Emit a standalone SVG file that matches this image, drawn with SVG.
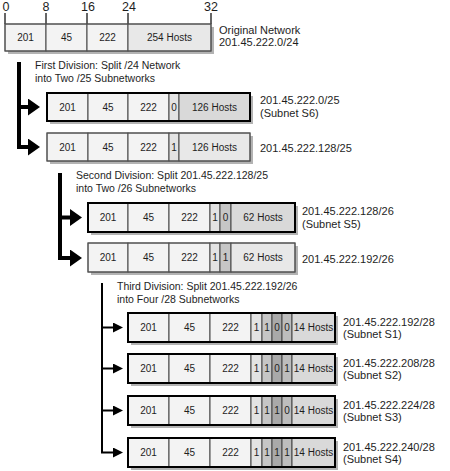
<svg xmlns="http://www.w3.org/2000/svg" width="450" height="471" viewBox="0 0 450 471">
<style>
text{font-family:"Liberation Sans",Arial,sans-serif;fill:#1e1e1e}
.num{font-size:12.5px;text-anchor:middle}
.cell{font-size:10px;text-anchor:middle}
.hs{font-size:10px;text-anchor:middle}
.lbl{font-size:11px}
.div{font-size:10.5px}
.o{fill:#f3f3f3;stroke:#444;stroke-width:1}
.h0{fill:#e8e8e8;stroke:#444;stroke-width:1}
.h{fill:#d9d9d9;stroke:#444;stroke-width:1}
.b1{fill:#e3e3e3;stroke:#444;stroke-width:1}
.b2{fill:#c6c6c6;stroke:#444;stroke-width:1}
.b3{fill:#a9a9a9;stroke:#444;stroke-width:1}
.b4{fill:#bdbdbd;stroke:#444;stroke-width:1}
.sh{fill:#b3b3b3}
.thin{fill:none;stroke:#555;stroke-width:1}
.bold{fill:none;stroke:#000;stroke-width:2}
.tick{stroke:#333;stroke-width:1.5}
.conn{fill:none;stroke:#000;stroke-linejoin:miter}
.thick{stroke-width:4}
.fine{stroke-width:2}
</style>
<defs>
<marker id="ah" viewBox="0 0 12 17" refX="0" refY="8.5" markerWidth="12" markerHeight="17" markerUnits="userSpaceOnUse" orient="auto">
<path d="M0,0 L12,8.5 L0,17 Z" fill="#000"/>
</marker>
<marker id="ahs" viewBox="0 0 10 10" refX="0" refY="5" markerWidth="10" markerHeight="10" markerUnits="userSpaceOnUse" orient="auto">
<path d="M0,0 L10,5 L0,10 Z" fill="#000"/>
</marker>
</defs>

<g id="bit-scale">
<line class="tick" x1="5" y1="13" x2="5" y2="24"/>
<line class="tick" x1="46" y1="13" x2="46" y2="24"/>
<line class="tick" x1="87" y1="13" x2="87" y2="24"/>
<line class="tick" x1="128" y1="13" x2="128" y2="24"/>
<line class="tick" x1="211" y1="13" x2="211" y2="24"/>
<text class="num" x="6" y="11">0</text>
<text class="num" x="46" y="11">8</text>
<text class="num" x="88" y="11">16</text>
<text class="num" x="129" y="11">24</text>
<text class="num" x="211" y="11">32</text>
</g>

<g id="original-network">
<rect class="sh" x="8" y="27" width="206" height="27"/>
<rect class="o" x="5" y="24" width="41" height="27"/>
<rect class="o" x="46" y="24" width="41" height="27"/>
<rect class="o" x="87" y="24" width="41" height="27"/>
<rect class="h0" x="128" y="24" width="83" height="27"/>
<rect class="thin" x="5" y="24" width="206" height="27"/>
<text class="cell" x="25.5" y="41">201</text>
<text class="cell" x="66.5" y="41">45</text>
<text class="cell" x="107.5" y="41">222</text>
<text class="hs" x="169.5" y="41">254 Hosts</text>
<text class="lbl" x="219" y="34">Original Network</text>
<text class="lbl" x="219" y="46">201.45.222.0/24</text>
</g>

<g id="connectors">
<path class="conn thick" d="M19,62 V147 H28" marker-end="url(#ah)"/>
<path class="conn thick" d="M19,107 H28" marker-end="url(#ah)"/>
<path class="conn thick" d="M60,173 V258 H70" marker-end="url(#ah)"/>
<path class="conn thick" d="M60,217.5 H70" marker-end="url(#ah)"/>
<path class="conn fine" d="M102,283 V452.5 H113" marker-end="url(#ahs)"/>
<path class="conn fine" d="M102,327.5 H113" marker-end="url(#ahs)"/>
<path class="conn fine" d="M102,368.5 H113" marker-end="url(#ahs)"/>
<path class="conn fine" d="M102,410.5 H113" marker-end="url(#ahs)"/>
</g>

<g id="division-1-label">
<text class="div" x="35" y="69">First Division: Split /24 Network</text>
<text class="div" x="35" y="82">into Two /25 Subnetworks</text>
</g>

<g id="subnet-s6">
<rect class="sh" x="50" y="96" width="203" height="28"/>
<rect class="o" x="47" y="93" width="41" height="28"/>
<rect class="o" x="88" y="93" width="40" height="28"/>
<rect class="o" x="128" y="93" width="41" height="28"/>
<rect class="b1" x="169" y="93" width="10" height="28"/>
<rect class="h" x="179" y="93" width="71" height="28"/>
<rect class="bold" x="47" y="93" width="203" height="28"/>
<text class="cell" x="67.5" y="110.5">201</text>
<text class="cell" x="108" y="110.5">45</text>
<text class="cell" x="148.5" y="110.5">222</text>
<text class="cell" x="174" y="110.5">0</text>
<text class="hs" x="214.5" y="110.5">126 Hosts</text>
<text class="lbl" x="260" y="104">201.45.222.0/25</text>
<text class="lbl" x="260" y="117">(Subnet S6)</text>
</g>

<g id="subnet-128-25">
<rect class="sh" x="50" y="136" width="203" height="28"/>
<rect class="o" x="47" y="133" width="41" height="28"/>
<rect class="o" x="88" y="133" width="40" height="28"/>
<rect class="o" x="128" y="133" width="41" height="28"/>
<rect class="b1" x="169" y="133" width="10" height="28"/>
<rect class="h0" x="179" y="133" width="71" height="28"/>
<rect class="thin" x="47" y="133" width="203" height="28"/>
<text class="cell" x="67.5" y="150.5">201</text>
<text class="cell" x="108" y="150.5">45</text>
<text class="cell" x="148.5" y="150.5">222</text>
<text class="cell" x="174" y="150.5">1</text>
<text class="hs" x="214.5" y="150.5">126 Hosts</text>
<text class="lbl" x="260" y="152">201.45.222.128/25</text>
</g>

<g id="division-2-label">
<text class="div" x="76" y="179">Second Division: Split 201.45.222.128/25</text>
<text class="div" x="76" y="192">into Two /26 Subnetworks</text>
</g>

<g id="subnet-s5">
<rect class="sh" x="91" y="206" width="207" height="29"/>
<rect class="o" x="88" y="203" width="40" height="29"/>
<rect class="o" x="128" y="203" width="41" height="29"/>
<rect class="o" x="169" y="203" width="41" height="29"/>
<rect class="b1" x="210" y="203" width="10" height="29"/>
<rect class="b2" x="220" y="203" width="11" height="29"/>
<rect class="h" x="231" y="203" width="64" height="29"/>
<rect class="bold" x="88" y="203" width="207" height="29"/>
<text class="cell" x="108" y="221">201</text>
<text class="cell" x="148.5" y="221">45</text>
<text class="cell" x="189.5" y="221">222</text>
<text class="cell" x="215" y="221">1</text>
<text class="cell" x="225.5" y="221">0</text>
<text class="hs" x="263" y="221">62 Hosts</text>
<text class="lbl" x="302" y="215">201.45.222.128/26</text>
<text class="lbl" x="302" y="228">(Subnet S5)</text>
</g>

<g id="subnet-192-26">
<rect class="sh" x="91" y="246" width="207" height="29"/>
<rect class="o" x="88" y="243" width="40" height="29"/>
<rect class="o" x="128" y="243" width="41" height="29"/>
<rect class="o" x="169" y="243" width="41" height="29"/>
<rect class="b1" x="210" y="243" width="10" height="29"/>
<rect class="b2" x="220" y="243" width="11" height="29"/>
<rect class="h0" x="231" y="243" width="64" height="29"/>
<rect class="thin" x="88" y="243" width="207" height="29"/>
<text class="cell" x="108" y="261">201</text>
<text class="cell" x="148.5" y="261">45</text>
<text class="cell" x="189.5" y="261">222</text>
<text class="cell" x="215" y="261">1</text>
<text class="cell" x="225.5" y="261">1</text>
<text class="hs" x="263" y="261">62 Hosts</text>
<text class="lbl" x="302" y="263">201.45.222.192/26</text>
</g>

<g id="division-3-label">
<text class="div" x="117" y="290">Third Division: Split 201.45.222.192/26</text>
<text class="div" x="117" y="303">into Four /28 Subnetworks</text>
</g>

<g id="subnet-s1">
<rect class="sh" x="131" y="316" width="207" height="29"/>
<rect class="o" x="128" y="313" width="41" height="29"/>
<rect class="o" x="169" y="313" width="41" height="29"/>
<rect class="o" x="210" y="313" width="41" height="29"/>
<rect class="b1" x="251" y="313" width="11" height="29"/>
<rect class="b2" x="262" y="313" width="10" height="29"/>
<rect class="b3" x="272" y="313" width="10" height="29"/>
<rect class="b4" x="282" y="313" width="10" height="29"/>
<rect class="h" x="292" y="313" width="43" height="29"/>
<rect class="bold" x="128" y="313" width="207" height="29"/>
<text class="cell" x="148.5" y="331">201</text>
<text class="cell" x="189.5" y="331">45</text>
<text class="cell" x="230.5" y="331">222</text>
<text class="cell" x="256.5" y="331">1</text>
<text class="cell" x="267" y="331">1</text>
<text class="cell" x="277" y="331">0</text>
<text class="cell" x="287" y="331">0</text>
<text class="hs" x="313.5" y="331">14 Hosts</text>
<text class="lbl" x="343" y="325.5">201.45.222.192/28</text>
<text class="lbl" x="343" y="338">(Subnet S1)</text>
</g>

<g id="subnet-s2">
<rect class="sh" x="131" y="357" width="207" height="29"/>
<rect class="o" x="128" y="354" width="41" height="29"/>
<rect class="o" x="169" y="354" width="41" height="29"/>
<rect class="o" x="210" y="354" width="41" height="29"/>
<rect class="b1" x="251" y="354" width="11" height="29"/>
<rect class="b2" x="262" y="354" width="10" height="29"/>
<rect class="b3" x="272" y="354" width="10" height="29"/>
<rect class="b4" x="282" y="354" width="10" height="29"/>
<rect class="h" x="292" y="354" width="43" height="29"/>
<rect class="bold" x="128" y="354" width="207" height="29"/>
<text class="cell" x="148.5" y="372">201</text>
<text class="cell" x="189.5" y="372">45</text>
<text class="cell" x="230.5" y="372">222</text>
<text class="cell" x="256.5" y="372">1</text>
<text class="cell" x="267" y="372">1</text>
<text class="cell" x="277" y="372">0</text>
<text class="cell" x="287" y="372">1</text>
<text class="hs" x="313.5" y="372">14 Hosts</text>
<text class="lbl" x="343" y="366.5">201.45.222.208/28</text>
<text class="lbl" x="343" y="379">(Subnet S2)</text>
</g>

<g id="subnet-s3">
<rect class="sh" x="131" y="399" width="207" height="29"/>
<rect class="o" x="128" y="396" width="41" height="29"/>
<rect class="o" x="169" y="396" width="41" height="29"/>
<rect class="o" x="210" y="396" width="41" height="29"/>
<rect class="b1" x="251" y="396" width="11" height="29"/>
<rect class="b2" x="262" y="396" width="10" height="29"/>
<rect class="b3" x="272" y="396" width="10" height="29"/>
<rect class="b4" x="282" y="396" width="10" height="29"/>
<rect class="h" x="292" y="396" width="43" height="29"/>
<rect class="bold" x="128" y="396" width="207" height="29"/>
<text class="cell" x="148.5" y="414">201</text>
<text class="cell" x="189.5" y="414">45</text>
<text class="cell" x="230.5" y="414">222</text>
<text class="cell" x="256.5" y="414">1</text>
<text class="cell" x="267" y="414">1</text>
<text class="cell" x="277" y="414">1</text>
<text class="cell" x="287" y="414">0</text>
<text class="hs" x="313.5" y="414">14 Hosts</text>
<text class="lbl" x="343" y="408.5">201.45.222.224/28</text>
<text class="lbl" x="343" y="421">(Subnet S3)</text>
</g>

<g id="subnet-s4">
<rect class="sh" x="131" y="441" width="207" height="29"/>
<rect class="o" x="128" y="438" width="41" height="29"/>
<rect class="o" x="169" y="438" width="41" height="29"/>
<rect class="o" x="210" y="438" width="41" height="29"/>
<rect class="b1" x="251" y="438" width="11" height="29"/>
<rect class="b2" x="262" y="438" width="10" height="29"/>
<rect class="b3" x="272" y="438" width="10" height="29"/>
<rect class="b4" x="282" y="438" width="10" height="29"/>
<rect class="h" x="292" y="438" width="43" height="29"/>
<rect class="bold" x="128" y="438" width="207" height="29"/>
<text class="cell" x="148.5" y="456">201</text>
<text class="cell" x="189.5" y="456">45</text>
<text class="cell" x="230.5" y="456">222</text>
<text class="cell" x="256.5" y="456">1</text>
<text class="cell" x="267" y="456">1</text>
<text class="cell" x="277" y="456">1</text>
<text class="cell" x="287" y="456">1</text>
<text class="hs" x="313.5" y="456">14 Hosts</text>
<text class="lbl" x="343" y="450.5">201.45.222.240/28</text>
<text class="lbl" x="343" y="463">(Subnet S4)</text>
</g>
</svg>
